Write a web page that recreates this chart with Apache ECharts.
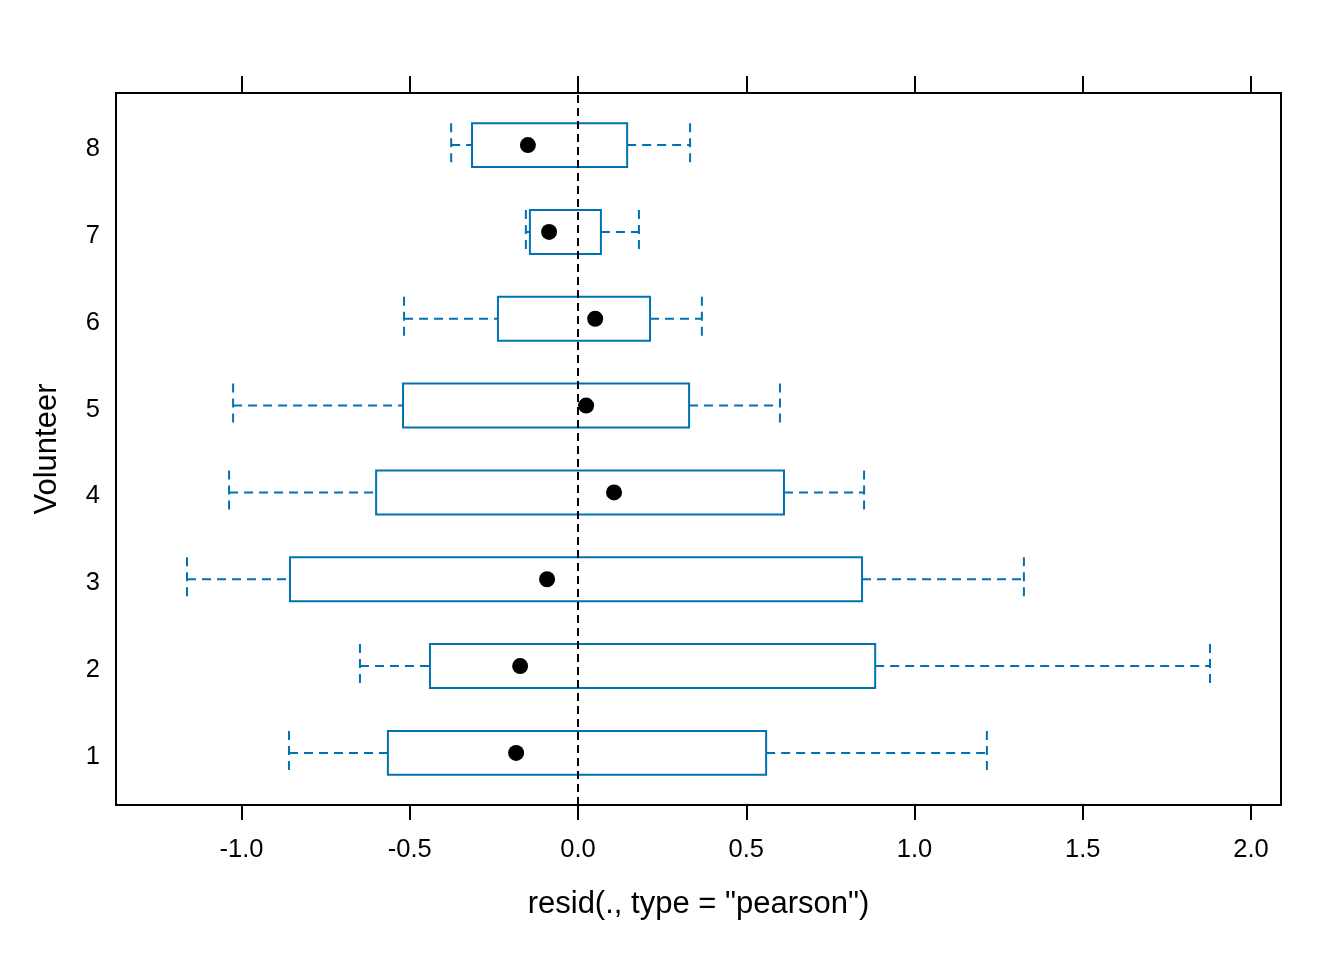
<!DOCTYPE html>
<html><head><meta charset="utf-8">
<script src="https://cdn.jsdelivr.net/npm/echarts@6/dist/echarts.min.js"></script>
<style>html,body{margin:0;padding:0;background:#fff}#c{width:1344px;height:960px}</style>
</head><body><div id="c"></div>
<script>
const volunteers = [1, 2, 3, 4, 5, 6, 7, 8];
const whiskerLow  = [-0.859, -0.648, -1.162, -1.037, -1.025, -0.517, -0.155, -0.377];
const q1          = [-0.565, -0.440, -0.856, -0.600, -0.520, -0.238, -0.143, -0.315];
const medians     = [-0.184, -0.172, -0.092,  0.107,  0.024,  0.051, -0.086, -0.149];
const q3          = [ 0.559,  0.883,  0.844,  0.612,  0.330,  0.214,  0.068,  0.146];
const whiskerHigh = [ 1.215,  1.878,  1.325,  0.850,  0.600,  0.368,  0.181,  0.333];
const xTicks = [-1.0, -0.5, 0.0, 0.5, 1.0, 1.5, 2.0];

const data = volunteers.map((v, i) => [v, whiskerLow[i], q1[i], medians[i], q3[i], whiskerHigh[i]]);
const BLUE = '#0072B2';
const FONT = 'Liberation Sans, Arial, sans-serif';

const chart = echarts.init(document.getElementById('c'), null, {renderer: 'canvas'});
chart.setOption({
  backgroundColor: '#fff',
  animation: false,
  grid: {left: 116, right: 63, top: 93, bottom: 155, show: true, borderColor: '#000', borderWidth: 2, backgroundColor: 'transparent'},
  xAxis: [{
    type: 'value', min: -1.373, max: 2.089, position: 'bottom',
    splitLine: {show: false},
    axisLine: {show: true, onZero: false, lineStyle: {color: '#000', width: 2}},
    axisTick: {show: true, customValues: xTicks, length: 15, lineStyle: {color: '#000', width: 2}},
    axisLabel: {customValues: xTicks, formatter: v => v.toFixed(1), color: '#000', fontSize: 25.5, fontFamily: FONT, margin: 32},
    name: 'resid(., type = "pearson")', nameLocation: 'middle', nameGap: 84,
    nameTextStyle: {color: '#000', fontSize: 31, fontFamily: FONT}
  }, {
    type: 'value', min: -1.373, max: 2.089, position: 'top',
    splitLine: {show: false},
    axisLine: {show: true, onZero: false, lineStyle: {color: '#000', width: 2}},
    axisTick: {show: true, customValues: xTicks, length: 17, lineStyle: {color: '#000', width: 2}},
    axisLabel: {show: false}
  }],
  yAxis: {
    type: 'value', min: 0.4, max: 8.6,
    splitLine: {show: false},
    axisLine: {show: true, onZero: false, lineStyle: {color: '#000', width: 2}},
    axisTick: {show: false},
    axisLabel: {
      customValues: volunteers, formatter: v => '{a|' + v + '}', margin: 16,
      rich: {a: {color: '#000', fontSize: 25.5, fontFamily: FONT, padding: [8, 0, 0, 0]}}
    },
    name: 'Volunteer', nameLocation: 'middle', nameGap: 53, nameRotate: 90,
    nameTextStyle: {color: '#000', fontSize: 31, fontFamily: FONT}
  },
  series: [{
    type: 'custom',
    xAxisIndex: 0,
    data: data,
    encode: {x: [1, 2, 3, 4, 5], y: 0},
    z: 3,
    renderItem: function (params, api) {
      const y = api.value(0);
      const pLo = api.coord([api.value(1), y]);
      const pQ1 = api.coord([api.value(2), y]);
      const pMd = api.coord([api.value(3), y]);
      const pQ3 = api.coord([api.value(4), y]);
      const pHi = api.coord([api.value(5), y]);
      const h = api.size([0, 0.253])[1];
      const dash = {stroke: BLUE, lineWidth: 2, lineDash: [9, 6]};
      const solid = {stroke: BLUE, lineWidth: 2, fill: null};
      return {
        type: 'group',
        children: [
          {type: 'line', shape: {x1: pLo[0], y1: pLo[1], x2: pQ1[0], y2: pQ1[1]}, style: dash},
          {type: 'line', shape: {x1: pQ3[0], y1: pQ3[1], x2: pHi[0], y2: pHi[1]}, style: dash},
          {type: 'line', shape: {x1: pLo[0], y1: pLo[1] - h, x2: pLo[0], y2: pLo[1] + h}, style: dash},
          {type: 'line', shape: {x1: pHi[0], y1: pHi[1] - h, x2: pHi[0], y2: pHi[1] + h}, style: dash},
          {type: 'rect', shape: {x: pQ1[0], y: pQ1[1] - h, width: pQ3[0] - pQ1[0], height: 2 * h}, style: solid},
          {type: 'circle', shape: {cx: pMd[0], cy: pMd[1], r: 8}, style: {fill: '#000'}, z2: 10}
        ]
      };
    }
  }, {
    type: 'line',
    xAxisIndex: 0,
    data: [],
    z: 4,
    markLine: {
      silent: true,
      symbol: ['none', 'none'],
      label: {show: false},
      lineStyle: {color: '#000', width: 2, type: [8, 5]},
      data: [{xAxis: 0}]
    }
  }]
});
</script>
</body></html>
